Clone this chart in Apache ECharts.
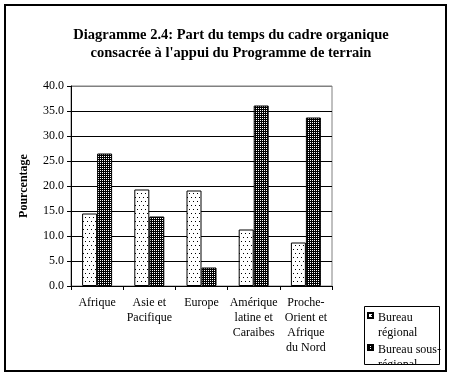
<!DOCTYPE html>
<html><head><meta charset="utf-8">
<script src="https://cdn.jsdelivr.net/npm/echarts@6/dist/echarts.min.js"></script>
<style>html,body{margin:0;padding:0;background:#fff}#c{width:452px;height:377px}</style>
</head><body><div id="c"></div>
<script>
var categories = ["Afrique", "Asie et\nPacifique", "Europe", "Amérique\nlatine et\nCaraibes", "Proche-\nOrient et\nAfrique\ndu Nord"];
var regional = [14.5, 19.3, 19.1, 11.3, 8.7];
var sousRegional = [26.5, 13.9, 3.7, 36.1, 33.7];
var seriesNames = ["Bureau\nrégional", "Bureau sous-\nrégional"];
var yTicks = [0, 5, 10, 15, 20, 25, 30, 35, 40];

function lightPattern(){
  var c = document.createElement('canvas'); c.width = 4; c.height = 8;
  var g = c.getContext('2d'); g.fillStyle = '#fff'; g.fillRect(0,0,4,8);
  g.fillStyle = '#000'; g.fillRect(1,1,1,1); g.fillRect(3,5,1,1);
  return c;
}
function darkPattern(){
  var c = document.createElement('canvas'); c.width = 2; c.height = 2;
  var g = c.getContext('2d'); g.fillStyle = '#000'; g.fillRect(0,0,2,2);
  g.fillStyle = '#fff'; g.fillRect(0,0,1,1);
  return c;
}
var font = 'Liberation Serif';
var chart = echarts.init(document.getElementById('c'), null, {renderer:'canvas'});
var splitColors = yTicks.map(function(v,i){ return i === yTicks.length-1 ? '#808080' : '#000'; });
var iconPath = 'path://M0,3L5,3L5,8L0,8Z M0,0 M0,30';
chart.setOption({
  backgroundColor: '#fff',
  animation: false,
  title: {
    text: 'Diagramme 2.4: Part du temps du cadre organique\nconsacrée à l\'appui du Programme de terrain',
    left: 226, top: 21, textAlign: 'center',
    textStyle: {fontFamily: font, fontWeight: 'bold', fontSize: 14.5, lineHeight: 18, color: '#000'}
  },
  graphic: [
    {type:'rect', shape:{x:5, y:5, width:441, height:366}, style:{fill:'none', stroke:'#000', lineWidth:2}, z:10},
    {type:'rect', shape:{x:364.5, y:306.5, width:75, height:58}, style:{fill:'none', stroke:'#000', lineWidth:1}, z:10},
    {type:'rect', shape:{x:365, y:365, width:76, height:5}, style:{fill:'#fff'}, z:9}
  ],
  legend: {
    orient: 'vertical', left: 367, top: 309, padding: 0, itemGap: 0,
    itemWidth: 5, itemHeight: 30, icon: iconPath,
    textStyle: {fontFamily: font, fontSize: 12, lineHeight: 15, color: '#000'},
    data: seriesNames
  },
  grid: {left: 71, top: 86, right: 120, bottom: 91, show: true, borderColor: '#808080', borderWidth: 1, backgroundColor: 'transparent'},
  xAxis: {
    type: 'category', data: categories,
    axisLine: {lineStyle: {color: '#000', width: 1}},
    axisTick: {show: true, length: 4, lineStyle: {color: '#000'}},
    axisLabel: {fontFamily: font, fontSize: 12, lineHeight: 15, color: '#000', margin: 9, interval: 0}
  },
  yAxis: {
    type: 'value', min: 0, max: 40, interval: 5,
    name: 'Pourcentage', nameLocation: 'middle', nameRotate: 90, nameGap: 41,
    nameTextStyle: {fontFamily: font, fontWeight: 'bold', fontSize: 12, color: '#000'},
    axisLine: {show: true, lineStyle: {color: '#000'}},
    axisTick: {show: true, length: 4, lineStyle: {color: '#000'}},
    axisLabel: {fontFamily: font, fontSize: 12, color: '#000', margin: 7, formatter: function(v){ return v.toFixed(1); }},
    splitLine: {show: true, lineStyle: {color: splitColors, width: 1}}
  },
  series: [
    {name: seriesNames[0], type: 'bar', data: regional, barWidth: 15, barGap: '0%',
     itemStyle: {color: {image: lightPattern(), repeat: 'repeat'}, borderColor: '#000', borderWidth: 1}},
    {name: seriesNames[1], type: 'bar', data: sousRegional, barWidth: 15,
     itemStyle: {color: {image: darkPattern(), repeat: 'repeat'}, borderColor: '#000', borderWidth: 1}}
  ]
});
</script></body></html>
